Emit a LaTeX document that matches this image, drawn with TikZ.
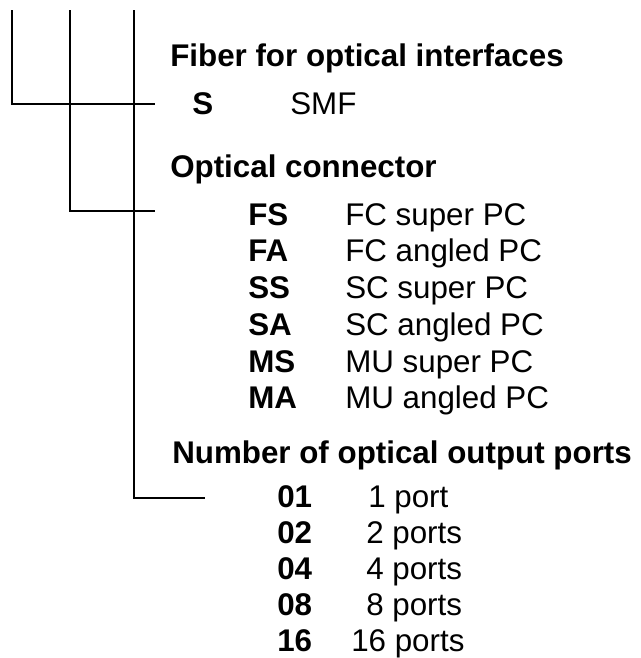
\documentclass[tikz,border=0pt]{standalone}
\usepackage{fontspec}
\setmainfont{Liberation Sans}
\usetikzlibrary{positioning}

\begin{document}
\begin{tikzpicture}[x=0.75pt,y=-0.75pt,
		txt/.style={anchor=base west,inner sep=0pt,font=\fontsize{23.5}{28}\selectfont},
		head/.style={txt,font=\fontsize{23.5}{28}\selectfont\bfseries},
		code/.style={txt,font=\fontsize{23.5}{28}\selectfont\bfseries},
		tree/.style={line width=1.5pt}]
		\useasboundingbox (0,0) rectangle (641,658);
		% headings
		\node[head] (fiber) at (170,66) {Fiber for optical interfaces};
		\node[head] (conn) at (170,177) {Optical connector};
		\node[head] (ports) at (172,463) {Number of optical output ports};
		% fiber
		\node[code] (s) at (192,114) {S};
		\node[txt] (smf) at (290,114) {SMF};
		% connectors
		\node[code] (fs) at (248,225) {FS};
		\node[txt] (fsd) at (345,225) {FC super PC};
		\node[code] (fa) at (248,261) {FA};
		\node[txt] (fad) at (345,261) {FC angled PC};
		\node[code] (ss) at (248,298) {SS};
		\node[txt] (ssd) at (345,298) {SC super PC};
		\node[code] (sa) at (248,335) {SA};
		\node[txt] (sad) at (345,335) {SC angled PC};
		\node[code] (ms) at (248,372) {MS};
		\node[txt] (msd) at (345,372) {MU super PC};
		\node[code] (ma) at (248,408) {MA};
		\node[txt] (mad) at (345,408) {MU angled PC};
		% ports
		\node[code] (p01) at (277,507) {01};
		\node[txt] (p01d) at (368,507) {1 port};
		\node[code] (p02) at (277,543) {02};
		\node[txt] (p02d) at (366,543) {2 ports};
		\node[code] (p04) at (277,579) {04};
		\node[txt] (p04d) at (366,579) {4 ports};
		\node[code] (p08) at (277,615) {08};
		\node[txt] (p08d) at (366,615) {8 ports};
		\node[code] (p16) at (277,651) {16};
		\node[txt] (p16d) at (351,651) {16 ports};
		% tree lines
		\coordinate (top1) at (12,10);
		\coordinate (top2) at (70,10);
		\coordinate (top3) at (134,10);
		\coordinate (end1) at (155,104);
		\coordinate (end2) at (155,211);
		\coordinate (end3) at (205,498);
		\draw[tree] (top1) |- (end1);
		\draw[tree] (top2) |- (end2);
		\draw[tree] (top3) |- (end3);
	\end{tikzpicture}
\end{document}
